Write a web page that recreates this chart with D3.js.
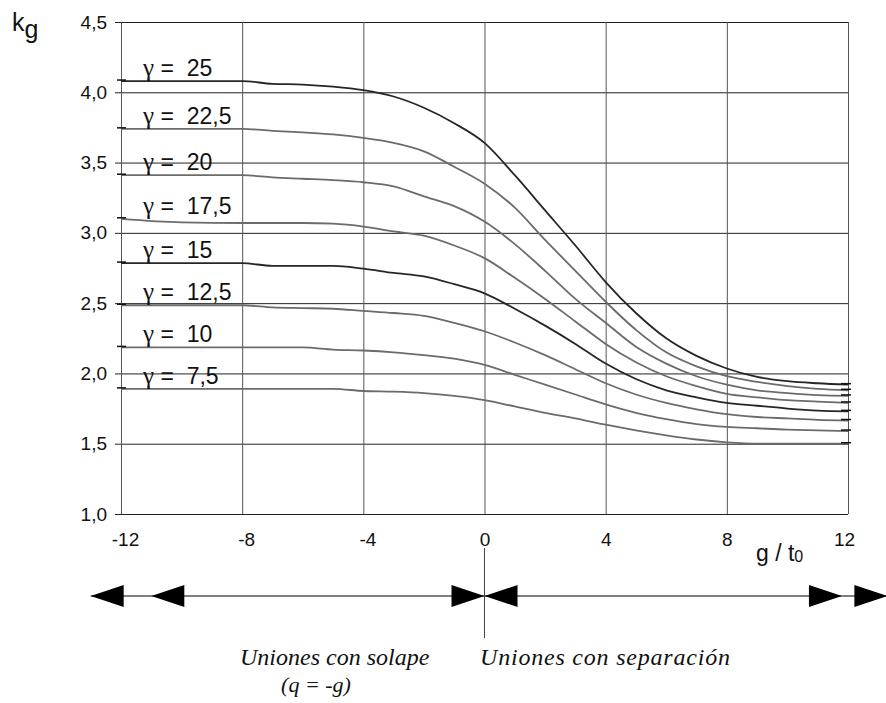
<!DOCTYPE html>
<html>
<head>
<meta charset="utf-8">
<script src="https://cdn.jsdelivr.net/npm/d3@7"></script>
<style>
  body { margin: 0; background: #fff; }
  svg { display: block; font-family: "Liberation Sans", Arial, sans-serif; }
</style>
</head>
<body>
<div id="chart"></div>
<script>
// g / t0 sample points
const gValues = [-12, -10, -8, -7, -6, -5, -4, -3, -2, -1, 0, 1, 2, 3, 4, 5, 6, 7, 8, 9, 10, 11, 12];
const gammaLabels = ["25", "22,5", "20", "17,5", "15", "12,5", "10", "7,5"];
// kg, one array per gamma
const k25  = [4.08, 4.08, 4.08, 4.06, 4.055, 4.04, 4.015, 3.97, 3.89, 3.78, 3.64, 3.41, 3.16, 2.91, 2.65, 2.43, 2.25, 2.125, 2.035, 1.975, 1.945, 1.93, 1.92];
const k225 = [3.74, 3.74, 3.74, 3.726, 3.715, 3.70, 3.675, 3.64, 3.58, 3.47, 3.35, 3.18, 2.95, 2.73, 2.51, 2.31, 2.15, 2.05, 1.98, 1.94, 1.91, 1.89, 1.88];
const k20  = [3.41, 3.41, 3.41, 3.395, 3.385, 3.375, 3.36, 3.33, 3.26, 3.19, 3.08, 2.92, 2.73, 2.53, 2.36, 2.19, 2.07, 1.98, 1.92, 1.88, 1.86, 1.845, 1.84];
const k175 = [3.10, 3.075, 3.07, 3.07, 3.07, 3.065, 3.045, 3.01, 2.98, 2.91, 2.82, 2.68, 2.53, 2.37, 2.21, 2.08, 1.98, 1.91, 1.855, 1.83, 1.81, 1.80, 1.79];
const k15  = [2.785, 2.785, 2.785, 2.765, 2.765, 2.765, 2.745, 2.715, 2.69, 2.635, 2.57, 2.46, 2.34, 2.21, 2.07, 1.96, 1.88, 1.83, 1.79, 1.77, 1.75, 1.735, 1.73];
const k125 = [2.485, 2.485, 2.485, 2.47, 2.465, 2.46, 2.445, 2.43, 2.41, 2.36, 2.30, 2.22, 2.13, 2.03, 1.93, 1.85, 1.79, 1.745, 1.71, 1.69, 1.68, 1.67, 1.665];
const k10  = [2.185, 2.185, 2.185, 2.185, 2.185, 2.17, 2.163, 2.15, 2.13, 2.105, 2.06, 1.99, 1.92, 1.85, 1.78, 1.72, 1.675, 1.64, 1.62, 1.61, 1.60, 1.595, 1.59];
const k75  = [1.89, 1.89, 1.89, 1.89, 1.89, 1.89, 1.875, 1.87, 1.86, 1.84, 1.81, 1.765, 1.72, 1.68, 1.635, 1.595, 1.56, 1.53, 1.51, 1.50, 1.50, 1.50, 1.50];
const series = [k25, k225, k20, k175, k15, k125, k10, k75];
const darkSeries = ["25", "15"];

const xTicks = [-12, -8, -4, 0, 4, 8, 12];
const yTicks = [1.0, 1.5, 2.0, 2.5, 3.0, 3.5, 4.0, 4.5];
// arrow heads along the bottom line: tip position (g / t0) and direction
const arrowTips = [-13, -11, 0, 0, 11.8, 13.3];
const arrowDirs = [-1, -1, 1, -1, 1, 1];

var margin = { top: 22, right: 38, bottom: 189, left: 121 };
const W = 886, H = 703;
const width = W - margin.left - margin.right;
const height = H - margin.top - margin.bottom;

var root = d3.select("#chart").append("svg")
    .attr("width", W)
    .attr("height", H);
var svg = root.append("g")
    .attr("transform", "translate(" + margin.left + "," + margin.top + ")");

var x = d3.scaleLinear().domain([-12, 12]).range([0, width]);
var y = d3.scaleLinear().domain([1, 4.5]).range([height, 0]);
var fmt = function (d) { return d3.format(".1f")(d).replace(".", ","); };

// horizontal grid + y labels
var gy = svg.append("g")
    .call(d3.axisLeft(y).tickValues(yTicks).tickFormat(fmt).tickSizeInner(-width).tickPadding(14));
gy.select(".domain").remove();
gy.selectAll(".tick line").attr("x1", -6).attr("stroke", "#222");
gy.selectAll(".tick text").attr("font-size", 19).attr("fill", "#111")
    .attr("font-family", "Liberation Sans, Arial, sans-serif");

// vertical grid + x labels (plain hyphen for negatives)
var gx = svg.append("g")
    .attr("transform", "translate(0," + height + ")")
    .call(d3.axisBottom(x).tickValues(xTicks).tickFormat(function (d) { return String(d); })
        .tickSizeInner(-height).tickPadding(19));
gx.select(".domain").remove();
gx.selectAll(".tick line").attr("stroke", "#555");
gx.selectAll(".tick text").attr("font-size", 19).attr("fill", "#111")
    .attr("dx", function (d) { return d < 0 ? 4 : (d === 12 ? -4 : 0); })
    .attr("font-family", "Liberation Sans, Arial, sans-serif");

// curves
var line = d3.line()
    .x(function (d, i) { return x(gValues[i]); })
    .y(function (d) { return y(d); })
    .curve(d3.curveMonotoneX);

series.forEach(function (s, i) {
    var col = darkSeries.indexOf(gammaLabels[i]) >= 0 ? "#262626" : "#6b6b6b";
    svg.append("path")
        .attr("d", line(s))
        .attr("fill", "none")
        .attr("stroke", col)
        .attr("stroke-width", 1.8);
    // small stubs where the curve meets each edge
    svg.append("line")
        .attr("x1", x(-12) - 4).attr("x2", x(-12) + 5)
        .attr("y1", y(s[0]) - 1).attr("y2", y(s[0]) - 1)
        .attr("stroke", "#111").attr("stroke-width", 1.5);
    svg.append("line")
        .attr("x1", x(12) - 7).attr("x2", x(12) + 3)
        .attr("y1", y(s[s.length - 1]) - 1).attr("y2", y(s[s.length - 1]) - 1)
        .attr("stroke", "#111").attr("stroke-width", 1.5);
    var t = svg.append("text")
        .attr("x", 22)
        .attr("y", y(s[0]) - 5)
        .attr("font-size", 23)
        .attr("fill", "#111")
        .style("white-space", "pre");
    t.append("tspan")
        .attr("font-family", "Liberation Serif, Times New Roman, serif")
        .attr("font-size", 25)
        .text("\u03B3");
    t.append("tspan").text(" =  " + gammaLabels[i]);
});

// axis titles
var kg = root.append("text")
    .attr("x", 12).attr("y", 31)
    .attr("font-size", 25).attr("fill", "#111");
kg.append("tspan").text("k");
kg.append("tspan").attr("dy", 7).text("g");

var gt = root.append("text")
    .attr("x", 756).attr("y", 561)
    .attr("font-size", 23).attr("fill", "#111")
    .style("white-space", "pre");
gt.append("tspan").text("g / t");
gt.append("tspan").attr("font-size", 16).attr("dy", 1).text("0");

// arrows under the chart
var ay = 596;
root.append("line")
    .attr("x1", margin.left + x(arrowTips[0])).attr("x2", W)
    .attr("y1", ay).attr("y2", ay)
    .attr("stroke", "#000").attr("stroke-width", 1.2);
root.append("line")
    .attr("x1", margin.left + x(0)).attr("x2", margin.left + x(0))
    .attr("y1", 548).attr("y2", 638)
    .attr("stroke", "#444").attr("stroke-width", 1);
arrowTips.forEach(function (t, i) {
    var tx = margin.left + x(t);
    var d = arrowDirs[i];
    var bx = tx - d * 33;
    root.append("path")
        .attr("d", "M" + tx + "," + ay + "L" + bx + "," + (ay - 11) + "L" + bx + "," + (ay + 11) + "Z")
        .attr("fill", "#000");
});

// captions
function caption(txt, cx, cy, size, anchor) {
    return root.append("text")
        .attr("x", cx).attr("y", cy)
        .attr("text-anchor", anchor)
        .attr("font-family", "'Liberation Serif', 'Times New Roman', serif")
        .attr("font-style", "italic").attr("font-size", size).attr("fill", "#111")
        .text(txt);
}
caption("Uniones con solape", 240, 665, 24, "start");
caption("(q = -g)", 316, 692, 22, "middle");
caption("Uniones con separación", 480, 665, 24, "start")
    .attr("textLength", 250).attr("lengthAdjust", "spacing");
</script>
</body>
</html>
